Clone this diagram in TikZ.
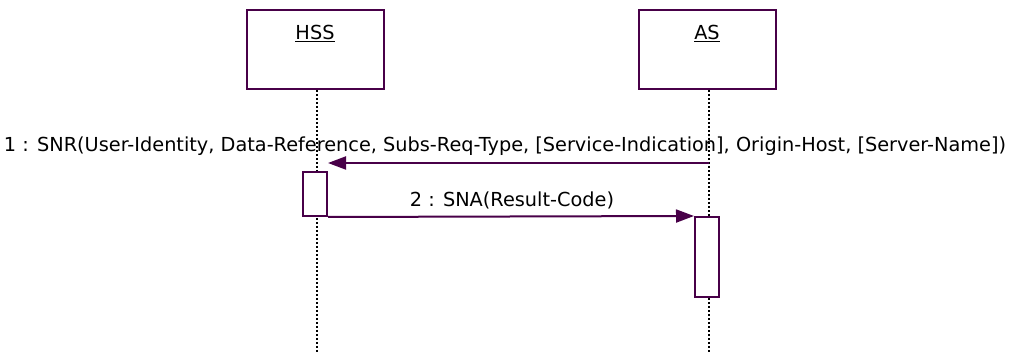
\documentclass[tikz,border=0pt]{standalone}
\usepackage{fontspec}
\setmainfont{DejaVu Sans}
\usetikzlibrary{arrows.meta}
\definecolor{umlline}{RGB}{72,0,72}
\begin{document}
\begin{tikzpicture}[x=1pt,y=-1pt,
  font=\fontsize{19.3}{22}\selectfont,
  actor/.style={draw=umlline, line width=2pt, fill=white, anchor=north, minimum width=137pt, minimum height=79pt, inner sep=0pt},
  actorname/.style={anchor=base, inner sep=0pt},
  lifeline/.style={draw=black, line width=1.5pt, dash pattern=on 2pt off 2pt},
  activation/.style={draw=umlline, line width=2pt, fill=white, minimum width=24pt, minimum height=44pt, inner sep=0pt},
  msg/.style={draw=umlline, line width=2pt, -{Triangle[length=18pt,width=13pt]}},
  msglabel/.style={anchor=base, inner sep=0pt}]
\useasboundingbox (0,0) rectangle (1034,352);
\node [actor] (hss) at (315,9) {};
\node [actor] (as) at (707,9) {};
\node [actorname] (hssname) at (315,40) {\underline{HSS}};
\node [actorname] (asname) at (707,40) {\underline{AS}};
\coordinate (hssend) at (317,352);
\coordinate (asend) at (709,352);
\draw [lifeline] (hss.south -| hssend) -- (hssend);
\draw [lifeline] (as.south -| asend) -- (asend);
\node [activation, anchor=north] (hssact) at (315,171) {};
\node [activation, anchor=north, minimum height=80pt] (asact) at (707,216) {};
\coordinate (snrstart) at (709,163);
\draw [msg] (snrstart) -- (snrstart -| hssact.east);
\draw [msg] (hssact.south east) -- (asact.north west);
\node [msglabel] (snr) at (505,152) {1 : SNR(User-Identity, Data-Reference, Subs-Req-Type, [Service-Indication], Origin-Host, [Server-Name])};
\node [msglabel] (sna) at (512,207) {2 : SNA(Result-Code)};
\end{tikzpicture}
\end{document}
